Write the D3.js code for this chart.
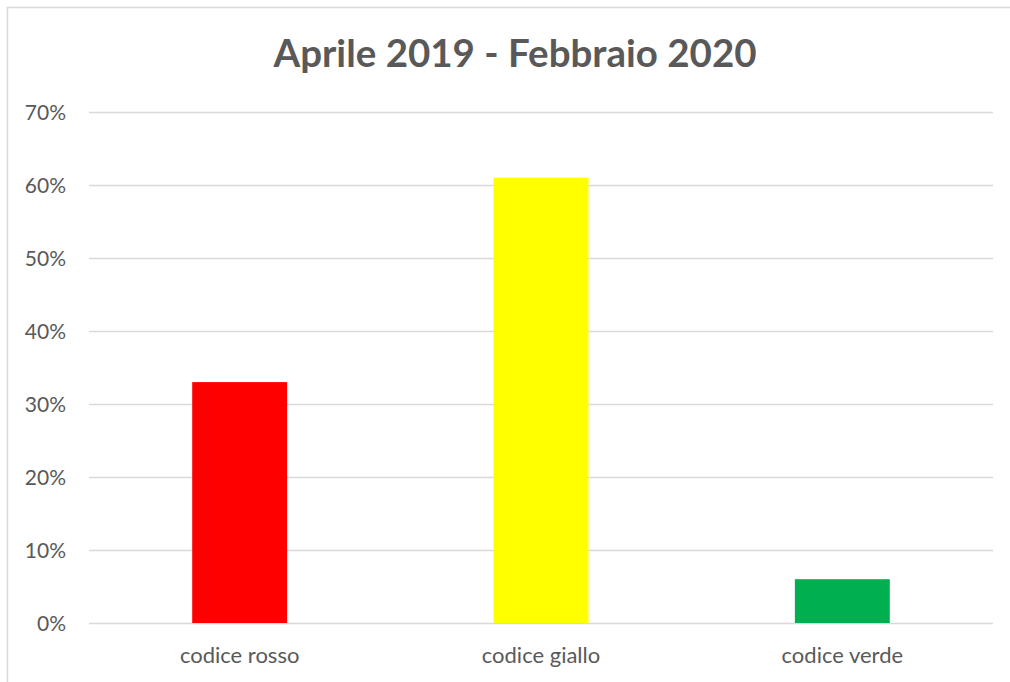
<!DOCTYPE html>
<html>
<head>
<meta charset="utf-8">
<script src="https://cdn.jsdelivr.net/npm/d3@7"></script>
<style>
  body { margin: 0; background: #fff; }
  svg text { font-family: Lato, "Open Sans", sans-serif; fill: #595959; }
</style>
</head>
<body>
<svg width="1010" height="682"></svg>
<script>
var categories = ["codice rosso", "codice giallo", "codice verde"];
var values = [0.33, 0.61, 0.06];
var barColors = ["#ff0000", "#ffff00", "#00b050"];
var yTicks = [0, 0.1, 0.2, 0.3, 0.4, 0.5, 0.6, 0.7];
var title = "Aprile 2019 - Febbraio 2020";

var svg = d3.select("svg"),
    width = +svg.attr("width"),
    height = +svg.attr("height");

// chart frame
svg.append("rect")
    .attr("x", 7.5).attr("y", 7.5)
    .attr("width", width + 10).attr("height", height + 10)
    .attr("fill", "none")
    .attr("stroke", "#d9d9d9")
    .attr("stroke-width", 1.5);

var margin = {left: 89, right: 17, top: 112, bottom: 59};

var x = d3.scaleBand()
    .domain(categories)
    .range([margin.left, width - margin.right])
    .padding(0);

var y = d3.scaleLinear()
    .domain([0, 0.7])
    .range([height - margin.bottom, margin.top]);

// gridlines
svg.append("g")
    .attr("class", "grid")
  .selectAll("line")
  .data(yTicks)
  .enter().append("line")
    .attr("x1", margin.left)
    .attr("x2", width - margin.right)
    .attr("y1", function(d) { return Math.round(y(d)) + 0.5; })
    .attr("y2", function(d) { return Math.round(y(d)) + 0.5; })
    .attr("stroke", "#d9d9d9")
    .attr("stroke-width", 1.5);

// y labels
svg.append("g")
  .selectAll("text")
  .data(yTicks)
  .enter().append("text")
    .attr("x", 66)
    .attr("y", function(d) { return y(d) + 7.5; })
    .attr("text-anchor", "end")
    .style("font-size", "21px")
    .text(d3.format(".0%"));

// bars
var barW = x.bandwidth() * 0.315;
svg.append("g")
  .selectAll("rect")
  .data(values)
  .enter().append("rect")
    .attr("x", function(d, i) { return x(categories[i]) + x.bandwidth() / 2 - barW / 2; })
    .attr("y", function(d) { return y(d); })
    .attr("width", barW)
    .attr("height", function(d) { return y(0) - y(d); })
    .attr("fill", function(d, i) { return barColors[i]; });

// x labels
svg.append("g")
  .selectAll("text")
  .data(categories)
  .enter().append("text")
    .attr("x", function(d) { return x(d) + x.bandwidth() / 2; })
    .attr("y", 663)
    .attr("text-anchor", "middle")
    .style("font-size", "22px")
    .text(function(d) { return d; });

svg.append("text")
    .attr("x", 515)
    .attr("y", 67)
    .attr("text-anchor", "middle")
    .style("font-size", "38.5px")
    .style("font-weight", "bold")
    .text(title);
</script>
</body>
</html>
